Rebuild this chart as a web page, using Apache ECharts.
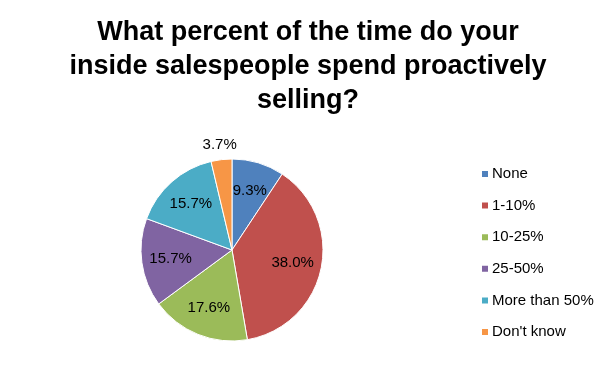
<!DOCTYPE html>
<html><head><meta charset="utf-8">
<script src="https://cdn.jsdelivr.net/npm/echarts@6/dist/echarts.min.js"></script>
<style>html,body{margin:0;padding:0;background:#fff}#c{width:614px;height:376px}</style>
</head><body><div id="c"></div>
<script>
var titleText = 'What percent of the time do your\ninside salespeople spend proactively\nselling?';
var categories = ['None', '1-10%', '10-25%', '25-50%', 'More than 50%', "Don't know"];
var values = [9.3, 38.0, 17.6, 15.7, 15.7, 3.7];
var colors = ['#4F81BD', '#C0504D', '#9BBB59', '#8064A2', '#4BACC6', '#F79646'];

var font = 'Liberation Sans';
var center = [232, 250];
var R = 91;

function data(fn) {
  return categories.map(function (c, i) { return fn(c, values[i], i); });
}

var chart = echarts.init(document.getElementById('c'), null, {renderer: 'canvas'});
chart.setOption({
  animation: false,
  color: colors,
  title: {
    text: titleText, left: 303, top: 11, textAlign: 'center',
    textStyle: {fontFamily: font, fontWeight: 'bold', fontSize: 27, lineHeight: 34, color: '#000'}
  },
  legend: {
    orient: 'vertical', left: 475, top: 161, itemWidth: 8, itemHeight: 8, itemGap: 15.6,
    icon: 'rect', data: categories,
    textStyle: {fontFamily: font, fontSize: 15, color: '#000', lineHeight: 16, padding: [0, 0, 0, -2]}
  },
  series: [{
    type: 'pie', center: center, radius: [0, R], startAngle: 90, clockwise: true,
    label: {show: false}, labelLine: {show: false},
    itemStyle: {borderColor: '#fff', borderWidth: 1},
    data: data(function (c, v) { return {name: c, value: v}; })
  }, {
    type: 'pie', center: center, radius: [27, R], startAngle: 90, clockwise: true, silent: true,
    legendHoverLink: false,
    itemStyle: {color: 'rgba(0,0,0,0)'},
    label: {show: true, position: 'inside', fontFamily: font, fontSize: 15, color: '#000',
      formatter: function (p) { return p.value.toFixed(1) + '%'; }},
    labelLine: {show: false},
    data: data(function (c, v, i) { return {name: c, value: v, label: {show: i !== 5}}; })
  }, {
    type: 'pie', center: center, radius: [95, 111], startAngle: 90, clockwise: true, silent: true,
    legendHoverLink: false,
    itemStyle: {color: 'rgba(0,0,0,0)'},
    label: {show: true, position: 'inside', fontFamily: font, fontSize: 15, color: '#000',
      formatter: function (p) { return p.value.toFixed(1) + '%'; }},
    labelLine: {show: false},
    data: data(function (c, v, i) { return {name: c, value: v, label: {show: i === 5}}; })
  }]
});
</script></body></html>
